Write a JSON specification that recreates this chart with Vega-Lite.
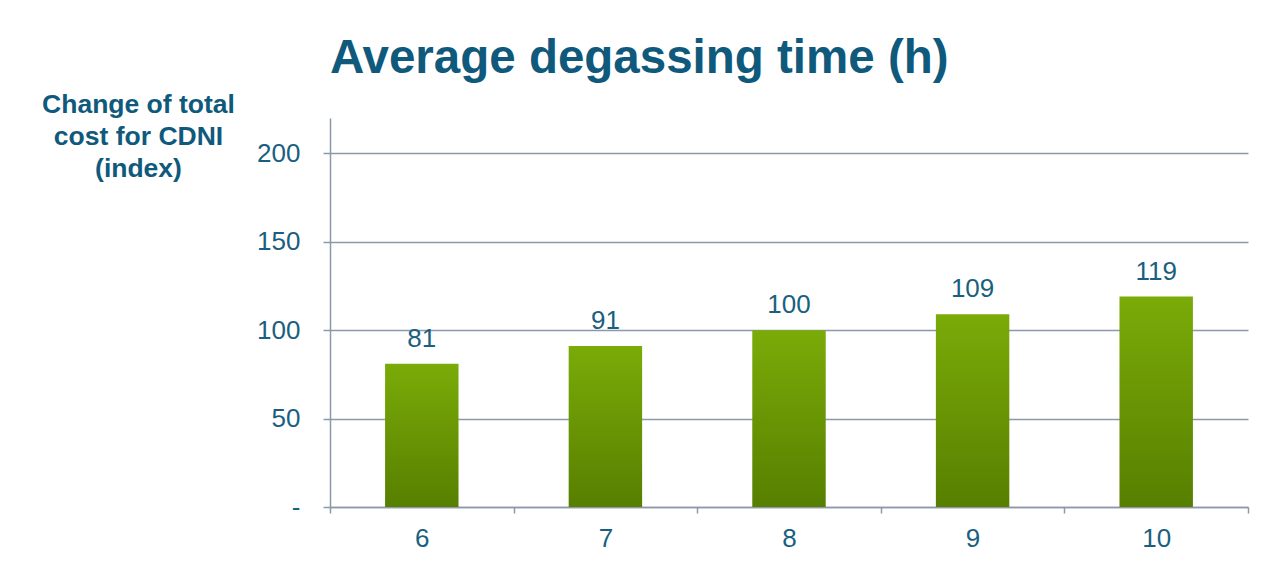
{
  "$schema": "https://vega.github.io/schema/vega-lite/v6.json",
  "autosize": {"type": "none"},
  "width": 918,
  "height": 389,
  "padding": {"left": 330, "top": 118, "right": 28, "bottom": 55},
  "background": "white",
  "title": {
    "text": "Average degassing time (h)",
    "anchor": "start",
    "frame": "group",
    "font": "Liberation Sans",
    "fontSize": 47.5,
    "fontWeight": "bold",
    "color": "#0f5a7c",
    "offset": 9
  },
  "data": {"values": [
    {"hours": "6", "index": 81},
    {"hours": "7", "index": 91},
    {"hours": "8", "index": 100},
    {"hours": "9", "index": 109},
    {"hours": "10", "index": 119}
  ]},
  "encoding": {
    "x": {
      "field": "hours", "type": "ordinal", "sort": null,
      "scale": {"paddingInner": 0, "paddingOuter": 0},
      "axis": {
        "title": null, "labelAngle": 0, "tickBand": "extent",
        "domainColor": "#8c99aa", "domainWidth": 1.5,
        "tickColor": "#8c99aa", "tickWidth": 1.5, "tickSize": 6,
        "labelFont": "Liberation Sans", "labelFontSize": 26, "labelColor": "#1a5f80",
        "labelPadding": 12, "grid": false
      }
    },
    "y": {
      "field": "index", "type": "quantitative",
      "scale": {"domain": [0, 220], "nice": false},
      "axis": {
        "values": [0, 50, 100, 150, 200],
        "labelExpr": "datum.value == 0 ? '-\u00a0\u00a0\u00a0\u00a0\u00a0' : datum.label",
        "title": ["Change of total", "cost for CDNI", "(index)"],
        "titleAngle": 0, "titleX": -192, "titleY": -14,
        "titleAlign": "center", "titleBaseline": "middle",
        "titleFont": "Liberation Sans", "titleFontSize": 26.5, "titleFontWeight": "bold",
        "titleColor": "#0f5a7c", "titleLineHeight": 32,
        "domainColor": "#8c99aa", "domainWidth": 1.5,
        "tickColor": "#8c99aa", "tickWidth": 1.5, "tickSize": 7,
        "gridColor": "#8c99aa", "gridWidth": 1.5,
        "labelFont": "Liberation Sans", "labelFontSize": 26, "labelColor": "#1a5f80",
        "labelPadding": 23
      }
    }
  },
  "layer": [
    {
      "mark": {
        "type": "bar",
        "width": {"band": 0.4},
        "color": {
          "gradient": "linear", "x1": 0, "y1": 0, "x2": 0, "y2": 1,
          "stops": [
            {"offset": 0, "color": "#7aab08"},
            {"offset": 1, "color": "#577f00"}
          ]
        }
      }
    },
    {
      "mark": {
        "type": "text", "baseline": "bottom", "dy": -12,
        "font": "Liberation Sans", "fontSize": 26, "color": "#1a5f80"
      },
      "encoding": {"text": {"field": "index", "type": "quantitative"}}
    }
  ],
  "config": {"view": {"stroke": null}}
}
